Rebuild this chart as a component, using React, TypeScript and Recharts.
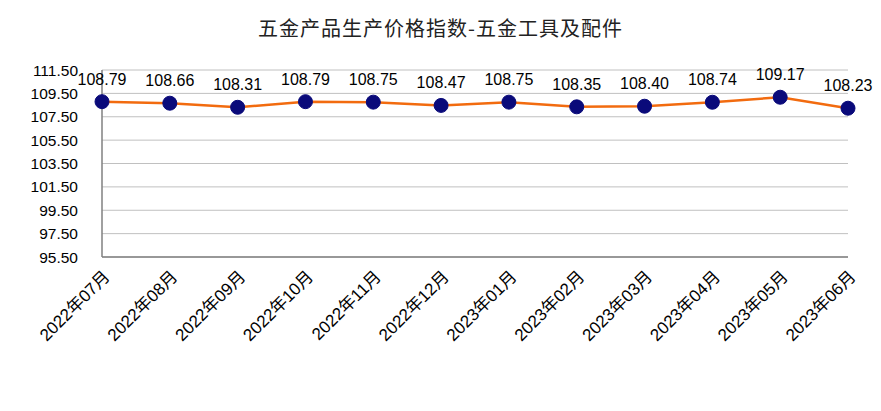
import React from 'react'
import { LineChart, Line, XAxis, YAxis, CartesianGrid, LabelList } from 'recharts'

const months = ['2022年07月', '2022年08月', '2022年09月', '2022年10月', '2022年11月', '2022年12月', '2023年01月', '2023年02月', '2023年03月', '2023年04月', '2023年05月', '2023年06月']
const indexValues = [108.79, 108.66, 108.31, 108.79, 108.75, 108.47, 108.75, 108.35, 108.40, 108.74, 109.17, 108.23]
const yTicks = [95.5, 97.5, 99.5, 101.5, 103.5, 105.5, 107.5, 109.5, 111.5]

const data = months.map((m, i) => ({ name: m, value: indexValues[i] }))

const font = 'Arial, "Liberation Sans", "Noto Sans CJK SC", sans-serif'

const MonthTick = (props: any) => {
  const { x, y, payload } = props
  return (
    <g transform={`translate(${x + 6},${y + 10})`}>
      <text textAnchor="end" transform="rotate(-45)" fontSize={17} fill="#000" fontFamily={font} dy={4}>
        {payload.value}
      </text>
    </g>
  )
}

const App = () => {
  return (
    <div style={{ position: 'absolute', left: 0, top: 0, width: 881, height: 411, background: '#fff' }}>
      <div style={{ position: 'absolute', top: 13, left: 0, width: 881, textAlign: 'center', fontSize: 20, letterSpacing: 1, fontFamily: '"Noto Sans CJK SC", sans-serif', color: '#222' }}>
        五金产品生产价格指数-五金工具及配件
      </div>
      <LineChart width={881} height={411} data={data} margin={{ top: 70, right: 33, left: 0, bottom: 0 }}>
        <CartesianGrid vertical={false} stroke="#c0c0c0" strokeWidth={1} />
        <XAxis
          dataKey="name"
          padding={{ left: 0, right: 0 }}
          height={154}
          interval={0}
          tick={<MonthTick />}
          tickLine={false}
          axisLine={{ stroke: '#808080', strokeWidth: 1.5 }}
        />
        <YAxis
          width={102}
          domain={[95.5, 111.5]}
          ticks={yTicks}
          tickFormatter={(v: number) => v.toFixed(2)}
          tick={{ fontSize: 15.5, fill: '#000', fontFamily: font }}
          tickLine={false}
          axisLine={{ stroke: '#808080', strokeWidth: 1.5 }}
          tickMargin={18}
        />
        <Line
          type="linear"
          dataKey="value"
          stroke="#f26b0f"
          strokeWidth={2.5}
          dot={{ r: 7, fill: '#0a0a7a', stroke: '#0a0a7a', strokeWidth: 1 }}
          isAnimationActive={false}
        >
          <LabelList
            dataKey="value"
            position="top"
            offset={17}
            formatter={(v: number) => v.toFixed(2)}
            style={{ fontSize: 16, fill: '#000', fontFamily: font }}
          />
        </Line>
      </LineChart>
    </div>
  )
}

export default App
